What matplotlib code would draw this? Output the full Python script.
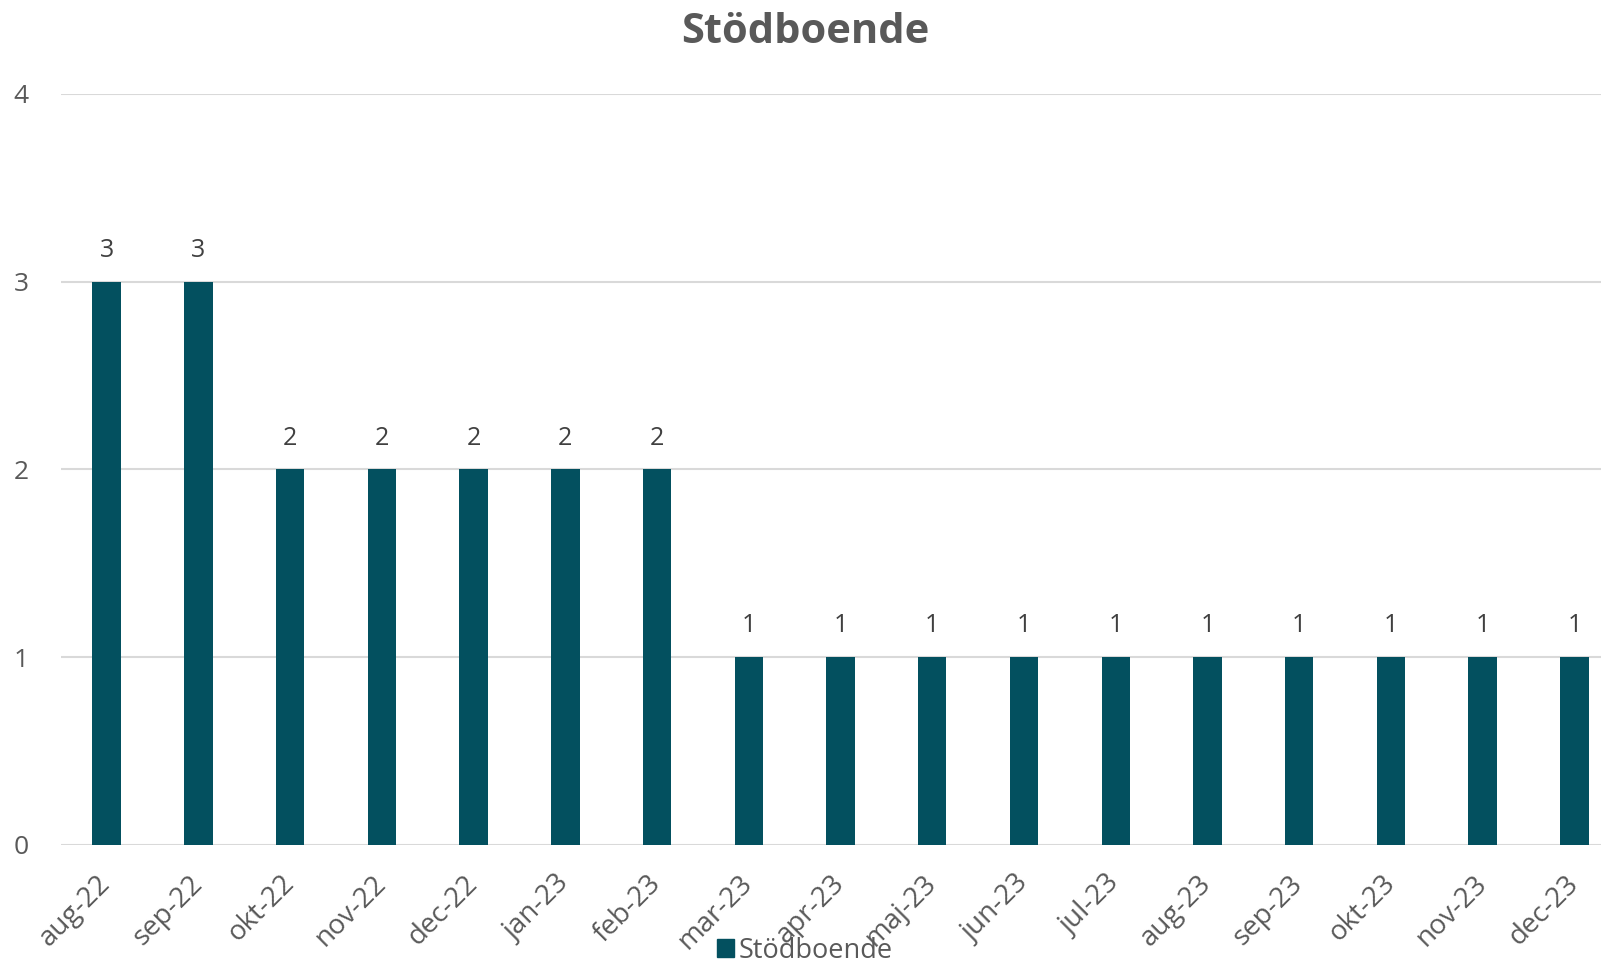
import matplotlib
matplotlib.use('Agg')
import matplotlib.pyplot as plt
from matplotlib.patches import Patch

plt.rcParams['font.family'] = ['Open Sans', 'DejaVu Sans']

months = ['aug-22', 'sep-22', 'okt-22', 'nov-22', 'dec-22', 'jan-23', 'feb-23',
          'mar-23', 'apr-23', 'maj-23', 'jun-23', 'jul-23', 'aug-23', 'sep-23',
          'okt-23', 'nov-23', 'dec-23']
counts = [3, 3, 2, 2, 2, 2, 2, 1, 1, 1, 1, 1, 1, 1, 1, 1, 1]
series_name = 'Stödboende'

bar_color = '#03505F'
text_gray = '#595959'

fig = plt.figure(figsize=(16.01, 9.67), dpi=100)
ax = fig.add_axes([0.038, 0.1262, 0.962, 0.7766])

x = range(len(months))
bars = ax.bar(x, counts, width=0.31, color=bar_color, zorder=3)
for b, v in zip(bars, counts):
    ax.text(b.get_x() + b.get_width() / 2, v + 0.1, str(v), ha='center', va='bottom',
            fontsize=18, color='#404040')

ax.set_ylim(0, 4)
ax.set_xlim(-0.5, 16.29)
ax.set_yticks([0, 1, 2, 3, 4])
ax.set_xticks(list(x))
ax.set_xticklabels(months, rotation=45, ha='right', va='center', rotation_mode='anchor')
ax.tick_params(axis='both', length=0, labelcolor=text_gray)
ax.tick_params(axis='y', pad=23, labelsize=19)
ax.tick_params(axis='x', pad=25, labelsize=20)
ax.grid(axis='y', color='#d9d9d9', linewidth=1.5, zorder=0)
for s in ax.spines.values():
    s.set_visible(False)

fig.text(0.503, 0.966, series_name, ha='center', va='center', fontsize=30,
         fontweight='bold', color=text_gray)

fig.legend(handles=[Patch(color=bar_color, label=series_name)], loc='center',
           bbox_to_anchor=(0.503, 0.017), frameon=False, fontsize=19.5,
           labelcolor=text_gray, handlelength=0.6, handleheight=0.6, handletextpad=0.2)

fig.savefig('out.png', dpi=100)
